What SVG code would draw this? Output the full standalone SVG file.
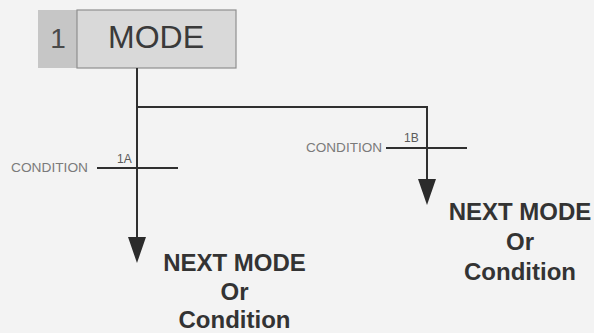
<svg xmlns="http://www.w3.org/2000/svg" width="594" height="333" viewBox="0 0 594 333">
  <defs>
    <marker id="arrow" markerUnits="userSpaceOnUse" viewBox="0 0 26 18" refX="3" refY="9" markerWidth="26" markerHeight="18" orient="auto">
      <path d="M0,0 L26,9 L0,18 Z" fill="#2b2b2b"/>
    </marker>
  </defs>
  <style>
    .wire { fill: none; stroke: #2f2f2f; stroke-width: 2; }
    .cond { font-family: "Liberation Sans", Arial, sans-serif; font-size: 12.5px; fill: #7a7a7a; }
    .tag { font-family: "Liberation Sans", Arial, sans-serif; font-size: 12px; fill: #5a5a5a; }
    .next { font-family: "Liberation Sans", Arial, sans-serif; font-size: 24px; font-weight: bold; fill: #333333; text-anchor: middle; }
  </style>
  <rect x="0" y="0" width="594" height="333" fill="#f3f3f3"/>

  <g id="mode">
    <rect x="38" y="10" width="39" height="58" fill="#c6c6c6"/>
    <rect x="77" y="10" width="159" height="58" fill="#d9d9d9" stroke="#8f8f8f" stroke-width="1.2"/>
    <text x="58" y="48" font-family="Liberation Sans, Arial, sans-serif" font-size="28" fill="#4a4a4a" text-anchor="middle">1</text>
    <text x="156" y="48" font-family="Liberation Sans, Arial, sans-serif" font-size="32" fill="#3a3a3a" text-anchor="middle">MODE</text>
  </g>

  <g id="connectors">
    <path class="wire" d="M137,68 V240" marker-end="url(#arrow)"/>
    <path class="wire" d="M137,107 H427 V182" marker-end="url(#arrow)"/>
    <line class="wire" x1="97" y1="168" x2="178" y2="168"/>
    <line class="wire" x1="386" y1="148" x2="467" y2="148"/>
  </g>

  <g id="condition-1a">
    <text class="cond" x="11" y="172" textLength="77" lengthAdjust="spacingAndGlyphs">CONDITION</text>
    <text class="tag" x="117" y="163">1A</text>
  </g>

  <g id="condition-1b">
    <text class="cond" x="306" y="152" textLength="76" lengthAdjust="spacingAndGlyphs">CONDITION</text>
    <text class="tag" x="404" y="142">1B</text>
  </g>

  <g id="next-left">
    <text class="next" x="234.5" y="271">NEXT MODE</text>
    <text class="next" x="234.5" y="300">Or</text>
    <text class="next" x="234.5" y="328">Condition</text>
  </g>

  <g id="next-right">
    <text class="next" x="520" y="220">NEXT MODE</text>
    <text class="next" x="520" y="250">Or</text>
    <text class="next" x="520" y="280">Condition</text>
  </g>
</svg>
